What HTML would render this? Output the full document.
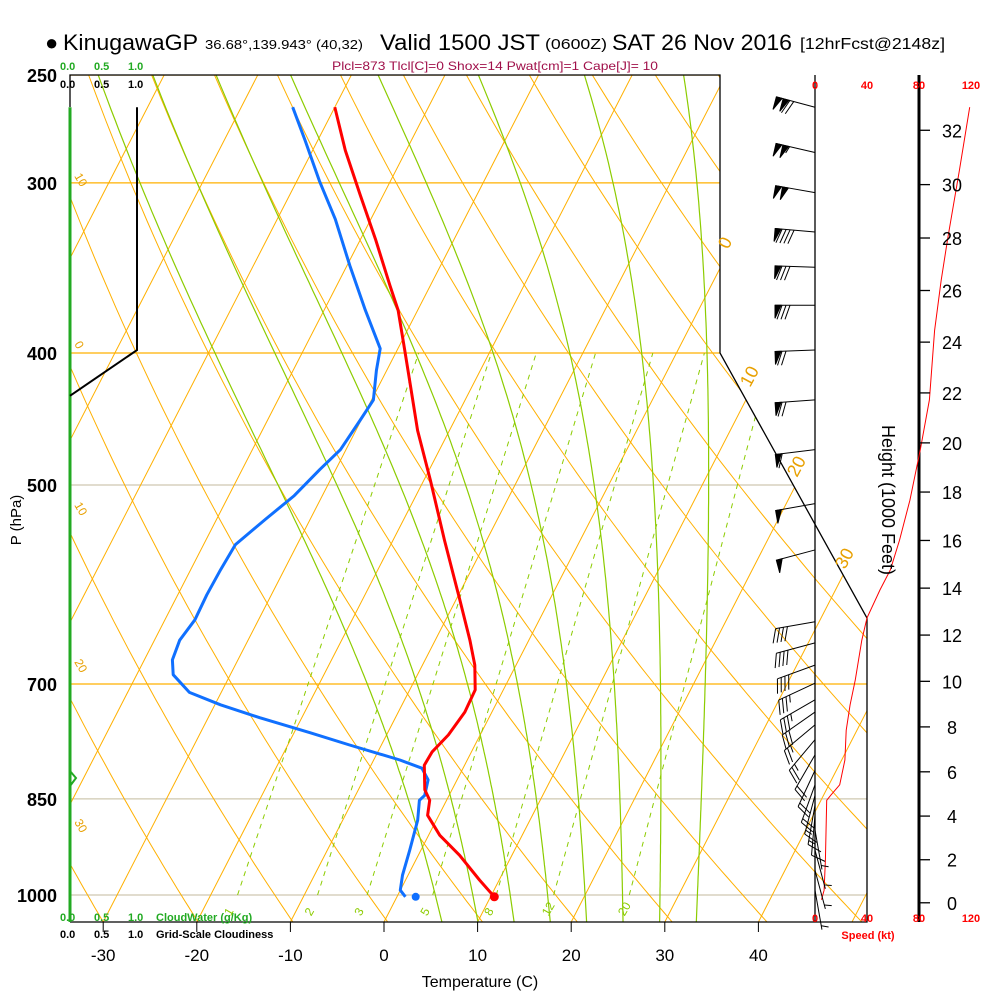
<!DOCTYPE html>
<html><head><meta charset="utf-8"><style>
html,body{margin:0;padding:0;background:#fff;}
svg{display:block;font-family:"Liberation Sans",sans-serif;}
</style></head><body>
<svg id="chart" width="1000" height="1000" viewBox="0 0 1000 1000">
<defs><clipPath id="plotclip"><polygon points="70,75 720,75 720,353 867,618 867,922 70,922"/></clipPath></defs>
<g id="grid" clip-path="url(#plotclip)"></g>
<g id="frame">
<polyline points="70,107 70,75 720,75 720,353 867,618 867,922 70,922" fill="none" stroke="#000" stroke-width="1.3"/>
<line x1="815" y1="75" x2="815" y2="922" stroke="#000" stroke-width="1.3"/>
<line x1="919" y1="75" x2="919" y2="922" stroke="#000" stroke-width="3"/>
</g>
<g id="series"></g>
<g id="labels">
<text x="45" y="50" font-size="22">●</text>
<text x="63" y="50" font-size="22" textLength="135" lengthAdjust="spacingAndGlyphs">KinugawaGP</text>
<text x="205" y="49" font-size="13" textLength="158" lengthAdjust="spacingAndGlyphs">36.68°,139.943° (40,32)</text>
<text x="380" y="50" font-size="22" textLength="160" lengthAdjust="spacingAndGlyphs">Valid 1500 JST</text>
<text x="545" y="49" font-size="15" textLength="62" lengthAdjust="spacingAndGlyphs">(0600Z)</text>
<text x="612" y="50" font-size="22" textLength="180" lengthAdjust="spacingAndGlyphs">SAT 26 Nov 2016</text>
<text x="800" y="49" font-size="16" textLength="145" lengthAdjust="spacingAndGlyphs">[12hrFcst@2148z]</text>
<text x="495" y="70" font-size="12" fill="#a0104a" text-anchor="middle" textLength="326" lengthAdjust="spacingAndGlyphs">Plcl=873 Tlcl[C]=0 Shox=14 Pwat[cm]=1 Cape[J]= 10</text>
<g font-size="11" font-weight="bold" fill="#22aa22"><text x="60" y="70">0.0</text><text x="94" y="70">0.5</text><text x="128" y="70">1.0</text></g>
<g font-size="11" font-weight="bold" fill="#000"><text x="60" y="88">0.0</text><text x="94" y="88">0.5</text><text x="128" y="88">1.0</text></g>
<g font-size="11" font-weight="bold" fill="#22aa22"><text x="60" y="921">0.0</text><text x="94" y="921">0.5</text><text x="128" y="921">1.0</text><text x="156" y="921">CloudWater (g/Kg)</text></g>
<g font-size="11" font-weight="bold" fill="#000"><text x="60" y="938">0.0</text><text x="94" y="938">0.5</text><text x="128" y="938">1.0</text><text x="156" y="938">Grid-Scale Cloudiness</text></g>
<g font-size="11" font-weight="bold" fill="#f00" text-anchor="middle"><text x="815" y="89">0</text><text x="867" y="89">40</text><text x="919" y="89">80</text><text x="971" y="89">120</text></g>
<g font-size="11" font-weight="bold" fill="#f00" text-anchor="middle"><text x="815" y="922">0</text><text x="867" y="922">40</text><text x="919" y="922">80</text><text x="971" y="922">120</text><text x="868" y="939">Speed (kt)</text></g>
<text x="480" y="987" font-size="16" text-anchor="middle">Temperature (C)</text>
<text transform="translate(21,520) rotate(-90)" font-size="15" text-anchor="middle">P (hPa)</text>
<text transform="translate(882,500) rotate(90)" font-size="18" text-anchor="middle">Height (1000 Feet)</text>
<g font-size="18" fill="#e8a000">
<text transform="translate(728,250) rotate(-62)">0</text>
<text transform="translate(750,388) rotate(-62)">10</text>
<text transform="translate(797,478) rotate(-62)">20</text>
<text transform="translate(845,570) rotate(-62)">30</text>
</g>
<g font-size="12" fill="#e8a000">
<text transform="translate(74,176) rotate(60)">10</text>
<text transform="translate(74,344) rotate(60)">0</text>
<text transform="translate(74,505) rotate(60)">10</text>
<text transform="translate(74,662) rotate(60)">20</text>
<text transform="translate(74,822) rotate(60)">30</text>
</g>
</g>
<g id="axes"></g>
</svg>
<script>
// ---- data ----
const tempP = [264,284,306,330,357,372,398,422,456,496,549,607,650,678,707,734,763,785,803,837,852,874,904,935,975,1003];
const tempT = [-50.0,-46.5,-42.5,-38.4,-34.3,-32.1,-29.2,-26.7,-23.4,-19.3,-14.5,-9.6,-6.3,-4.4,-3.0,-2.9,-3.4,-4.2,-4.3,-2.9,-1.8,-1.2,1.2,4.4,7.9,10.4];
const dewP = [264,279,299,319,345,372,397,412,433,448,471,487,509,530,553,577,602,628,650,672,689,710,725,741,760,776,796,807,823,845,852,881,927,967,992,1003];
const dewT = [-54.5,-51.4,-47.6,-43.8,-39.7,-35.6,-31.9,-31.1,-29.8,-30.1,-30.6,-31.7,-33.0,-34.8,-36.6,-36.8,-36.9,-36.8,-37.3,-37.0,-36.1,-33.4,-29.4,-24.5,-18.3,-13.4,-7.2,-4.4,-3.1,-2.6,-2.9,-2.0,-1.2,-0.6,0.0,0.9];
const sfcDew = 2.0;
const sfcDewP = 1003;
const speedP = [264,294,330,354,385,433,471,513,549,577,597,626,650,695,725,757,796,830,845,852,943,992,1008];
const speedKt = [119,111,102,97,92,88,81,73,65,58,50,40,36,31,27,24,23,19,12,9,8,7,5];
const barbP = [264,285,305,326,346,369,398,433,471,516,558,630,653,678,699,719,734,750,769,789,810,830,845,859,874,896,927,959,992];
const barbSpd = [120,105,100,90,80,80,70,70,60,50,50,40,40,40,35,35,30,25,25,20,20,20,15,15,10,5,5,5,5];
const barbDir = [285,283,280,275,272,270,268,266,263,260,255,260,255,250,245,240,235,230,220,210,205,200,195,190,185,170,165,165,170];
const cloudP = [264,398,430];
const cloudFrac = [1.0,1.0,0.0];
const pressureTicks = [250,300,400,500,700,850,1000];
const tempTicks = [-30,-20,-10,0,10,20,30,40];
const heightTicks = [0,2,4,6,8,10,12,14,16,18,20,22,24,26,28,30,32];
const mixRatios = [1,2,3,5,8,12,20];
const moistStarts = [4,8,12,16,20,24,28,32];

// ---- axes functions ----
const X0=384, XS=9.36, SKEW=0.514, YB=922, YP=895, YS=591.5;
function yP(p){return YP+YS*Math.log(p/1000);}
function xT(t,p){return X0+XS*t+SKEW*(YB-yP(p));}
function xSpd(s){return 815+s*1.3;}
function xCloud(c){return 70+c*67;}
const NS='http://www.w3.org/2000/svg';
function mk(tag,attrs,parent){const e=document.createElementNS(NS,tag);for(const k in attrs)e.setAttribute(k,attrs[k]);parent.appendChild(e);return e;}
const grid=document.getElementById('grid'), series=document.getElementById('series'), axes=document.getElementById('axes');
const ORANGE='#ffb000', GREEN='#8ccc00';

// isobars
pressureTicks.forEach(p=>{
  const l=mk('line',{x1:70,x2:867,y1:yP(p),y2:yP(p),stroke:(p==500||p==850||p==1000)?'#cfc8b0':ORANGE,'stroke-width':1.2},grid);
  
  
});
// isotherms
for(let t=-120;t<=50;t+=10){
  const l=mk('line',{x1:xT(t,1060),y1:yP(1060),x2:xT(t,240),y2:yP(240),stroke:ORANGE,'stroke-width':1},grid);
  
  
}
// dry adiabats
for(let th=230;th<=480;th+=10){
  let pts=[];for(let p=1060;p>=240;p-=10){const t=th*Math.pow(p/1000,0.286)-273.15;pts.push(xT(t,p).toFixed(1)+','+yP(p).toFixed(1));}
  const l=mk('polyline',{points:pts.join(' '),fill:'none',stroke:ORANGE,'stroke-width':1},grid);
  
  
}
// moist adiabats
function es(t){return 6.112*Math.exp(17.67*t/(t+243.5));}
function moistRate(T,p){const tc=T-273.15;const rs=0.622*es(tc)/(p-es(tc));return (287*T+2.5e6*rs)/(1005+2.5e6*2.5e6*rs*0.622/(287*T*T))/p;}
moistStarts.forEach(t0=>{
  let pts=[];let T=t0+273.15;
  let Tl=T;for(let p=1000;p<1060;p+=5){Tl+=moistRate(Tl,p)*5;}
  pts.push(xT(Tl-273.15,1060)+','+yP(1060));
  for(let p=1000;p>=240;p-=5){pts.push(xT(T-273.15,p).toFixed(1)+','+yP(p).toFixed(1));T-=moistRate(T,p)*5;}
  const l=mk('polyline',{points:pts.join(' '),fill:'none',stroke:GREEN,'stroke-width':1.2},grid);
  
  
});
// mixing ratio lines
mixRatios.forEach(w=>{
  function td(p){const e=w*p/(622+w);const L=Math.log(e/6.112);return 243.5*L/(17.67-L);}
  const l=mk('line',{x1:xT(td(1000),1000),y1:yP(1000),x2:xT(td(400),400),y2:yP(400),stroke:GREEN,'stroke-width':1,'stroke-dasharray':'5,5'},grid);
  
  
  const tx=mk('text',{x:xT(td(1047),1047)-3,y:916,'font-size':12,fill:GREEN,transform:'rotate(-60 '+(xT(td(1047),1047))+' 912)'},series);
  tx.textContent=w;
  
  
});

// cloud lines
const cw=mk('line',{x1:70,y1:yP(264),x2:70,y2:922,stroke:'#22aa22','stroke-width':3},series);


const cwm=mk('polyline',{points:'70,771 76,778 70,786',fill:'none',stroke:'#22aa22','stroke-width':2},series);


const cl=mk('polyline',{points:cloudP.map((p,i)=>xCloud(cloudFrac[i])+','+yP(p)).join(' '),fill:'none',stroke:'#000','stroke-width':2},series);



// dewpoint & temperature
const dl=mk('polyline',{points:dewP.map((p,i)=>xT(dewT[i],p).toFixed(1)+','+yP(p).toFixed(1)).join(' '),fill:'none',stroke:'#1070ff','stroke-width':3,'stroke-linejoin':'round'},series);


const dd=mk('circle',{cx:xT(sfcDew,sfcDewP),cy:yP(sfcDewP),r:4,fill:'#1070ff'},series);


const tl=mk('polyline',{points:tempP.map((p,i)=>xT(tempT[i],p).toFixed(1)+','+yP(p).toFixed(1)).join(' '),fill:'none',stroke:'#ff0000','stroke-width':3,'stroke-linejoin':'round'},series);


const n=tempP.length-1;
const td0=mk('circle',{cx:xT(tempT[n],tempP[n]),cy:yP(tempP[n]),r:4.5,fill:'#ff0000'},series);



// speed profile
const sl=mk('polyline',{points:speedP.map((p,i)=>xSpd(speedKt[i]).toFixed(1)+','+yP(p).toFixed(1)).join(' '),fill:'none',stroke:'#ff0000','stroke-width':1},series);



// wind barbs
barbP.forEach((p,i)=>{
  const g=mk('g',{stroke:'#000','stroke-width':1,fill:'#000'},series);
  
  
  const bx=815, by=yP(p), a=barbDir[i]*Math.PI/180;
  const sx=Math.sin(a), sy=-Math.cos(a);
  const L=40, tx=bx+sx*L, ty=by+sy*L;
  mk('line',{x1:bx,y1:by,x2:tx,y2:ty},g);
  const px=sy, py=-sx;
  let s=barbSpd[i], pos=0;
  while(s>=50){const x1=tx-sx*pos,y1=ty-sy*pos,x2=tx-sx*(pos+6),y2=ty-sy*(pos+6);
    mk('polygon',{points:x1+','+y1+' '+(x1+px*13)+','+(y1+py*13)+' '+x2+','+y2},g);pos+=7;s-=50;}
  while(s>=10){const x1=tx-sx*pos,y1=ty-sy*pos;mk('line',{x1:x1,y1:y1,x2:x1+px*14+sx*5,y2:y1+py*14+sy*5},g);pos+=4;s-=10;}
  if(s>=5){if(pos==0)pos=4;const x1=tx-sx*pos,y1=ty-sy*pos;mk('line',{x1:x1,y1:y1,x2:x1+px*7+sx*2.5,y2:y1+py*7+sy*2.5},g);}
});

// axis labels
pressureTicks.forEach(p=>{
  const t=mk('text',{x:57,y:yP(p)+7,'font-size':18,'font-weight':'bold','text-anchor':'end'},axes);
  t.textContent=p;
  
  
});
tempTicks.forEach(v=>{
  const x=X0+XS*v;
  const tk=mk('line',{x1:x,y1:922,x2:x,y2:932,stroke:'#000'},axes);
  
  
  const t=mk('text',{x:x,y:961,'font-size':17,'text-anchor':'middle'},axes);
  t.textContent=v;
  
  
});
heightTicks.forEach(h=>{
  const z=h*304.8; const p=1013.25*Math.pow(1-6.5e-3*z/288.15,5.2559); const y=yP(p);
  const tk=mk('line',{x1:919,y1:y,x2:930,y2:y,stroke:'#000','stroke-width':1.3},axes);
  
  
  const t=mk('text',{x:952,y:y+7,'font-size':18,'text-anchor':'middle'},axes);
  t.textContent=h;
  
  
});
</script>
</body></html>
